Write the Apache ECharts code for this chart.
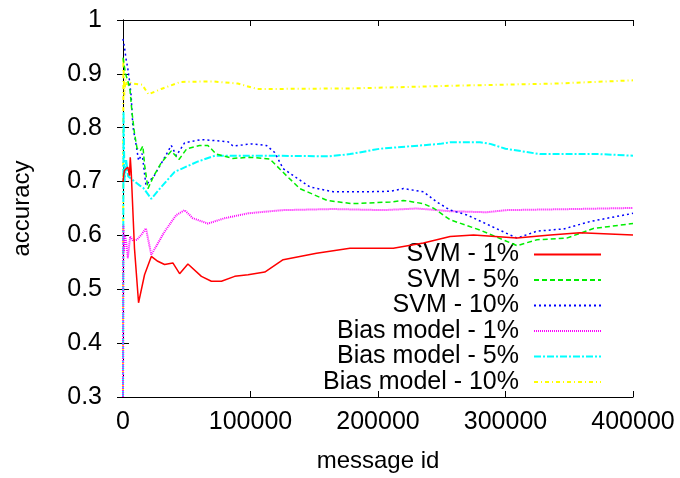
<!DOCTYPE html>
<html>
<head>
<meta charset="utf-8">
<script src="https://cdn.jsdelivr.net/npm/echarts@6/dist/echarts.min.js"></script>
<style>
html,body{margin:0;padding:0;background:#fff;}
#chart{width:680px;height:478px;}
</style>
</head>
<body>
<div id="chart"></div>
<script>
// ---- data (message id, accuracy) ----
const seriesNames = ['SVM - 1%', 'SVM - 5%', 'SVM - 10%', 'Bias model - 1%', 'Bias model - 5%', 'Bias model - 10%'];
const xTicks = [0, 100000, 200000, 300000, 400000];
const yTicks = [0.3, 0.4, 0.5, 0.6, 0.7, 0.8, 0.9, 1];

const svm1 = [[0,0.70],[1000,0.72],[2500,0.718],[3800,0.727],[5100,0.711],[5700,0.745],[6400,0.72],[9000,0.576],[12200,0.475],[16900,0.527],[22200,0.561],[27300,0.552],[32600,0.546],[39100,0.549],[44400,0.529],[50900,0.547],[61500,0.524],[69300,0.515],[77200,0.515],[87600,0.524],[98100,0.527],[111200,0.532],[125600,0.555],[151800,0.567],[178000,0.576],[212000,0.576],[235600,0.586],[256600,0.598],[274900,0.601],[309000,0.595],[335200,0.601],[358500,0.605],[400000,0.601]];
const svm5 = [[0,0.93],[2000,0.90],[4000,0.885],[5500,0.87],[7000,0.83],[9000,0.79],[11000,0.762],[13500,0.757],[15600,0.766],[17000,0.73],[19600,0.687],[24000,0.71],[30000,0.735],[37900,0.757],[43900,0.741],[50000,0.761],[60000,0.767],[66600,0.767],[73200,0.751],[86000,0.743],[99400,0.745],[115100,0.742],[128200,0.711],[138700,0.687],[160000,0.665],[180000,0.659],[209500,0.662],[220000,0.665],[235700,0.659],[244000,0.650],[256600,0.629],[280000,0.610],[309000,0.581],[324700,0.592],[348000,0.595],[369000,0.613],[400000,0.622]];
const svm10 = [[0,0.965],[1000,0.952],[2500,0.926],[3500,0.914],[5000,0.889],[6400,0.859],[7700,0.803],[10400,0.767],[12200,0.739],[15000,0.752],[18000,0.693],[24500,0.711],[32000,0.742],[37900,0.767],[41800,0.748],[48300,0.772],[61400,0.778],[82400,0.774],[86300,0.766],[100700,0.770],[112500,0.767],[119000,0.754],[125600,0.724],[146600,0.690],[164900,0.681],[188500,0.681],[209500,0.682],[220000,0.687],[235700,0.681],[246200,0.662],[256600,0.647],[269800,0.638],[309000,0.595],[324700,0.608],[345600,0.612],[366600,0.626],[400000,0.641]];
const bias1 = [[0,0.30],[300,0.62],[800,0.57],[1500,0.60],[2500,0.589],[3800,0.558],[5600,0.598],[8000,0.59],[11000,0.592],[14000,0.60],[18000,0.613],[22200,0.564],[32600,0.607],[41800,0.638],[48300,0.647],[54800,0.632],[66600,0.622],[79700,0.632],[98100,0.641],[111200,0.644],[125600,0.647],[164900,0.649],[204200,0.647],[230400,0.650],[256600,0.645],[285000,0.643],[300800,0.647],[353500,0.649],[400000,0.651]];
const bias5 = [[0,0.30],[400,0.83],[1200,0.70],[2500,0.74],[4000,0.71],[6400,0.705],[13000,0.693],[16000,0.688],[22200,0.668],[30000,0.69],[40500,0.718],[58500,0.737],[72000,0.748],[99400,0.748],[111000,0.748],[162000,0.747],[178000,0.751],[201600,0.761],[248700,0.770],[256600,0.773],[280000,0.773],[288000,0.770],[300000,0.761],[327000,0.751],[374000,0.751],[400000,0.748]];
const bias10 = [[0,0.30],[300,0.93],[1000,0.86],[2000,0.89],[3000,0.88],[5000,0.884],[8000,0.882],[15000,0.88],[20000,0.862],[30000,0.872],[45000,0.885],[70000,0.886],[90000,0.882],[105000,0.872],[120000,0.872],[180000,0.873],[260000,0.878],[340000,0.882],[400000,0.888]];

const seriesData = [svm1, svm5, svm10, bias1, bias5, bias10];
const colors = ['#ff0000', '#00ee00', '#0000ff', '#ff00ff', '#00ffff', '#ffff00'];
const dashes = ['solid', [5, 3], [2, 3], [1, 1], [7, 2, 2, 2], [4, 3, 1, 3]];
const widths = [1.5, 1.5, 1.5, 2, 2, 2];

const FONT = 'Liberation Sans';
const chart = echarts.init(document.getElementById('chart'), null, {renderer: 'canvas'});

const option = {
  animation: false,
  backgroundColor: '#ffffff',
  textStyle: {fontFamily: FONT, color: '#000'},
  grid: {left: 123, right: 47, top: 20, bottom: 78, containLabel: false},
  legend: {
    orient: 'vertical',
    right: 78,
    top: 242,
    align: 'right',
    padding: 0,
    itemGap: 0.5,
    itemWidth: 67,
    itemHeight: 14,
    itemTextGap: 17,
    itemStyle: {opacity: 0},
    data: seriesNames,
    textStyle: {fontFamily: FONT, fontSize: 25, color: '#000', lineHeight: 25, width: 218, align: 'right', padding: [0, 10, 0, 0]}
  },
  xAxis: [{
    type: 'value', min: xTicks[0], max: xTicks[xTicks.length - 1], interval: xTicks[1] - xTicks[0],
    name: 'message id', nameLocation: 'middle', nameGap: 52,
    nameTextStyle: {fontFamily: FONT, fontSize: 24, color: '#000'},
    axisLine: {show: true, onZero: false, lineStyle: {color: '#000', width: 1}},
    axisTick: {show: true, inside: true, length: 6, lineStyle: {color: '#000'}},
    axisLabel: {fontFamily: FONT, fontSize: 25, color: '#000', margin: 13, formatter: v => String(v)},
    splitLine: {show: false}
  }, {
    type: 'value', position: 'top', min: xTicks[0], max: xTicks[xTicks.length - 1], interval: xTicks[1] - xTicks[0],
    axisLine: {show: true, lineStyle: {color: '#000', width: 1}},
    axisTick: {show: true, inside: true, length: 6, lineStyle: {color: '#000'}},
    axisLabel: {show: false}, splitLine: {show: false}
  }],
  yAxis: [{
    type: 'value', min: yTicks[0], max: yTicks[yTicks.length - 1], interval: 0.1,
    name: 'accuracy', nameLocation: 'middle', nameGap: 89,
    nameTextStyle: {fontFamily: FONT, fontSize: 24, color: '#000'},
    axisLine: {show: true, onZero: false, lineStyle: {color: '#000', width: 1}},
    axisTick: {show: true, inside: true, length: 6, lineStyle: {color: '#000'}},
    axisLabel: {fontFamily: FONT, fontSize: 25, color: '#000', margin: 21, padding: [6, 0, 0, 0], formatter: v => String(Math.round(v * 10) / 10)},
    splitLine: {show: false}
  }, {
    type: 'value', position: 'right', min: yTicks[0], max: yTicks[yTicks.length - 1], interval: 0.1,
    axisLine: {show: true, lineStyle: {color: '#000', width: 1}},
    axisTick: {show: true, inside: true, length: 6, lineStyle: {color: '#000'}},
    axisLabel: {show: false}, splitLine: {show: false}
  }],
  series: seriesNames.map((name, i) => ({
    name: name,
    type: 'line',
    xAxisIndex: 0,
    yAxisIndex: 0,
    data: seriesData[i],
    showSymbol: false,
    symbol: 'none',
    smooth: false,
    color: colors[i],
    lineStyle: {color: colors[i], width: widths[i], type: dashes[i]},
    z: 10 - i
  }))
};
chart.setOption(option);
</script>
</body>
</html>
